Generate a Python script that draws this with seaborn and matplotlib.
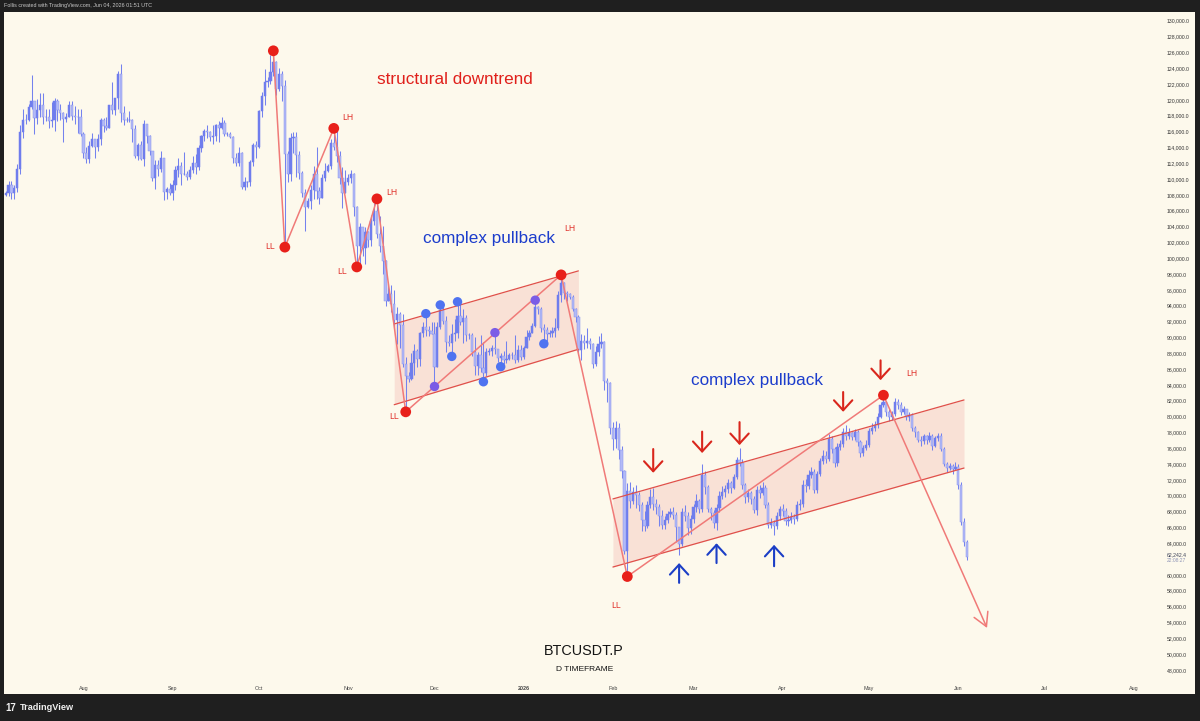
import numpy as np
import pandas as pd
import matplotlib
matplotlib.use("Agg")
import matplotlib.pyplot as plt
import matplotlib.dates as mdates
from matplotlib.patches import Rectangle
import seaborn as sns

# ---- daily BTCUSDT.P candles (values in thousands), open = previous close ----
first_day = "2025-07-05"
first_open = 108.0

close_jul = [108.2, 109.2, 108.3, 108.9, 111.3, 115.9, 117.5, 117.4, 119.1, 119.8, 117.7, 118.7, 119.4, 117.9,
             117.9, 117.3, 117.4, 119.9, 118.7, 118.3, 117.6, 117.9, 119.4, 118.0, 117.9, 117.8, 115.7]
high_jul = [108.5, 109.7, 109.7, 109.2, 111.9, 116.8, 118.9, 118.2, 119.5, 123.2, 119.9, 120.1, 120.9, 120.9,
            118.9, 118.9, 119.7, 120.2, 120.1, 119.5, 118.5, 118.4, 119.8, 119.8, 119.2, 118.8, 118.9]
low_jul = [107.8, 107.8, 107.5, 107.5, 108.4, 110.6, 115.2, 116.9, 117.3, 118.9, 115.7, 116.9, 117.8, 116.9,
           117.3, 116.5, 116.6, 116.1, 117.3, 117.4, 114.7, 117.2, 117.8, 117.4, 117.0, 115.8, 115.5]

close_aug = [113.3, 112.5, 114.2, 115.0, 114.1, 115.0, 117.5, 116.7, 116.5, 119.3, 118.7, 120.2, 123.3, 118.3,
             117.4, 117.5, 117.5, 116.3, 112.9, 114.3, 112.5, 116.9, 115.4, 113.5, 110.1, 111.8, 111.3, 112.6,
             108.4, 108.8, 108.2]
high_aug = [116.0, 114.0, 114.8, 115.8, 115.1, 115.7, 117.7, 117.7, 117.9, 119.3, 122.3, 120.3, 123.7, 124.5,
            119.2, 117.9, 118.6, 117.6, 116.8, 114.6, 114.8, 117.4, 117.0, 115.6, 113.6, 112.4, 112.4, 113.5,
            112.6, 109.0, 109.5]
low_aug = [112.7, 112.0, 112.0, 114.1, 112.7, 113.6, 114.3, 115.9, 116.2, 116.5, 118.2, 118.1, 118.9, 117.2,
           116.8, 117.2, 117.2, 114.7, 112.6, 112.4, 112.4, 111.7, 114.6, 113.0, 109.7, 108.8, 110.4, 110.9,
           107.4, 107.5, 108.0]

close_sep = [109.2, 111.2, 111.7, 110.7, 110.7, 110.2, 111.1, 112.0, 111.5, 113.9, 115.5, 116.1, 115.9, 115.3,
             115.4, 116.8, 116.5, 117.1, 115.7, 115.7, 115.3, 112.7, 112.0, 113.3, 109.0, 109.6, 109.6, 112.1,
             114.3, 114.0]
high_sep = [109.9, 111.7, 112.6, 112.2, 113.4, 111.0, 111.6, 112.9, 113.2, 114.3, 115.6, 116.3, 116.8, 116.1,
            116.8, 117.0, 117.3, 117.9, 117.5, 116.0, 116.0, 115.4, 113.3, 114.0, 113.4, 110.3, 109.8, 112.4,
            114.5, 114.8]
low_sep = [107.3, 108.6, 110.2, 109.3, 110.5, 109.9, 110.0, 110.8, 110.7, 111.1, 113.4, 114.8, 115.2, 114.8,
           114.4, 114.8, 114.7, 116.3, 115.4, 115.4, 115.2, 112.0, 111.6, 111.7, 108.7, 108.6, 109.0, 109.1,
           111.6, 112.7]

close_oct = [118.6, 120.5, 122.2, 122.4, 123.5, 124.8, 121.4, 123.3, 121.7, 113.2, 110.7, 115.2, 115.3, 113.1,
             110.8, 108.2, 106.5, 107.2, 108.6, 110.6, 108.5, 107.6, 110.1, 111.0, 111.6, 114.5, 114.1, 112.9,
             110.1, 108.3, 109.6]
high_oct = [118.7, 121.0, 123.9, 122.9, 125.7, 126.2, 124.9, 124.0, 123.7, 122.5, 113.5, 115.8, 116.0, 115.9,
            113.6, 111.0, 108.8, 107.6, 109.2, 111.6, 114.0, 109.0, 110.6, 112.0, 111.9, 115.0, 116.4, 116.1,
            113.6, 111.5, 111.1]
low_oct = [113.9, 117.9, 119.3, 121.6, 122.0, 123.0, 120.6, 121.1, 119.9, 101.5, 109.6, 109.7, 113.3, 110.2,
           110.0, 107.7, 103.5, 106.4, 106.2, 107.5, 107.5, 106.8, 107.6, 109.7, 110.9, 111.3, 113.7, 112.2,
           109.4, 106.3, 108.3]

close_nov = [110.1, 110.6, 106.5, 101.5, 103.9, 101.3, 103.3, 102.3, 104.7, 106.0, 103.0, 101.6, 99.7, 94.6,
             95.5, 94.2, 92.2, 92.9, 91.6, 86.6, 85.1, 84.7, 86.8, 88.3, 87.3, 90.5, 91.3, 90.9, 90.8, 90.4]
high_nov = [110.6, 111.2, 110.8, 106.6, 104.5, 104.0, 104.0, 103.4, 105.5, 107.0, 107.5, 105.3, 104.1, 99.8,
            96.8, 96.6, 96.0, 93.8, 93.2, 92.9, 87.5, 85.6, 88.0, 89.2, 88.5, 90.7, 91.9, 92.9, 91.5, 91.9]
low_nov = [109.2, 109.5, 105.3, 98.9, 98.9, 100.3, 99.3, 101.4, 101.5, 104.2, 102.5, 100.8, 98.0, 94.0,
           94.6, 93.2, 91.3, 89.2, 88.6, 86.2, 80.6, 84.4, 84.6, 85.2, 86.2, 86.4, 90.1, 90.2, 90.2, 90.4]

close_dec = [86.3, 91.3, 93.5, 92.1, 89.4, 89.3, 90.4, 90.6, 92.7, 92.0, 92.5, 90.3, 90.3, 88.2, 86.4, 87.8,
             86.1, 85.5, 88.1, 88.3, 88.6, 88.5, 87.4, 87.6, 87.2, 87.3, 87.8, 87.8, 87.1, 88.4, 87.5]
high_dec = [91.9, 91.9, 94.1, 94.0, 92.7, 90.3, 91.7, 92.3, 94.5, 94.5, 93.6, 92.8, 90.6, 90.6, 90.1, 88.2,
            90.3, 89.4, 88.6, 88.6, 89.0, 90.6, 88.2, 88.0, 88.3, 89.5, 88.0, 88.2, 90.3, 89.0, 89.0]
low_dec = [83.8, 86.2, 91.1, 91.7, 88.1, 88.9, 87.6, 89.6, 89.9, 91.6, 89.3, 89.6, 89.8, 87.6, 85.2, 85.3,
           85.6, 84.4, 85.1, 87.8, 87.7, 87.9, 86.9, 86.3, 86.6, 86.8, 87.2, 87.3, 86.8, 86.9, 87.2]

close_jan = [88.7, 90.0, 90.6, 91.4, 93.8, 93.6, 91.2, 90.9, 90.4, 90.5, 90.8, 91.2, 95.4, 96.9, 95.6, 95.5,
             95.1, 93.6, 92.6, 88.4, 89.6, 89.3, 89.5, 89.2, 86.6, 88.2, 89.2, 89.4, 84.5, 84.2, 78.6]
high_jan = [88.9, 90.9, 90.9, 91.8, 94.7, 94.0, 93.8, 91.7, 91.3, 90.9, 91.3, 92.5, 95.8, 97.9, 97.0, 95.9,
            95.6, 95.3, 93.7, 92.8, 90.4, 90.3, 91.2, 89.9, 89.3, 88.9, 90.2, 90.5, 89.5, 84.9, 84.4]
low_jan = [87.3, 88.6, 89.7, 90.5, 91.3, 92.9, 90.7, 89.2, 89.6, 90.1, 90.1, 90.0, 90.9, 94.5, 94.9, 94.6,
           94.8, 93.3, 92.0, 87.8, 87.2, 88.5, 88.6, 88.5, 86.1, 86.4, 87.6, 88.6, 83.4, 81.8, 77.8]

close_feb = [77.2, 78.6, 75.8, 73.1, 63.0, 70.6, 69.3, 70.5, 70.1, 68.8, 67.0, 66.2, 68.8, 69.9, 68.9, 68.6,
             67.5, 66.3, 66.9, 67.7, 68.0, 67.6, 66.0, 63.9, 67.9, 67.4, 65.9, 67.1]
high_feb = [79.3, 79.4, 79.2, 76.3, 73.2, 71.6, 71.8, 71.1, 71.3, 70.5, 69.2, 68.1, 69.4, 70.8, 71.0, 69.6,
            69.0, 68.2, 67.5, 68.1, 68.5, 68.6, 67.9, 64.8, 68.5, 68.8, 68.0, 67.6]
low_feb = [75.8, 76.0, 74.6, 72.2, 62.7, 59.8, 68.4, 68.9, 68.4, 68.1, 65.6, 65.5, 65.9, 68.5, 68.2, 67.7,
           66.2, 65.8, 65.8, 66.6, 67.3, 67.1, 64.2, 62.5, 63.7, 66.8, 65.0, 65.2]

close_mar = [68.6, 69.3, 68.3, 72.6, 71.1, 68.3, 67.8, 66.6, 68.4, 70.0, 70.5, 70.8, 71.6, 71.0, 72.4, 74.5,
             74.2, 71.3, 69.8, 70.4, 69.6, 68.2, 70.7, 70.4, 71.0, 68.8, 66.3, 66.6, 66.2, 67.4, 68.3]
high_mar = [68.9, 70.2, 69.6, 74.0, 73.1, 71.4, 68.6, 68.2, 68.9, 70.6, 71.2, 71.3, 72.1, 71.9, 72.8, 74.9,
            76.0, 74.6, 71.6, 70.9, 70.6, 70.0, 71.2, 71.4, 71.7, 71.3, 69.2, 67.2, 67.0, 67.9, 68.7]
low_mar = [66.5, 67.9, 67.8, 68.0, 70.2, 67.9, 67.0, 65.9, 65.7, 67.9, 69.6, 69.8, 70.3, 70.3, 70.8, 72.1,
           73.7, 70.8, 69.1, 69.2, 69.0, 67.8, 67.6, 69.7, 70.1, 68.5, 65.9, 65.9, 65.0, 65.8, 67.0]

close_apr = [68.1, 66.8, 66.9, 67.3, 67.1, 68.8, 68.9, 71.4, 71.2, 72.6, 73.0, 70.7, 72.8, 74.4, 75.0, 74.7,
             77.2, 75.9, 74.1, 76.2, 76.5, 78.1, 77.6, 77.9, 77.4, 78.0, 76.8, 75.4, 76.0, 76.4]
high_apr = [68.9, 68.4, 67.6, 67.9, 67.7, 69.3, 69.6, 72.0, 72.1, 73.2, 73.6, 73.4, 73.1, 74.8, 75.8, 75.6,
            77.8, 77.5, 76.2, 76.7, 77.1, 78.6, 78.9, 78.5, 78.1, 78.4, 78.3, 77.0, 76.4, 77.0]
low_apr = [67.5, 66.3, 66.2, 66.6, 66.4, 66.8, 68.2, 68.6, 70.5, 70.9, 72.2, 70.3, 70.4, 72.5, 74.0, 74.2,
           74.4, 75.4, 73.6, 73.8, 75.8, 76.2, 77.1, 77.2, 77.0, 77.1, 76.3, 74.9, 75.0, 75.8]

close_may = [78.2, 78.5, 78.9, 80.0, 81.5, 81.9, 80.6, 79.9, 80.3, 81.9, 81.5, 80.6, 80.9, 79.9, 80.2, 78.5,
             78.0, 77.1, 76.9, 77.5, 77.0, 77.6, 76.3, 77.3, 77.6, 75.9, 74.0, 73.5, 73.8, 73.4, 73.6]
high_may = [78.6, 79.2, 79.4, 80.4, 81.9, 82.7, 82.0, 80.9, 80.7, 82.3, 82.2, 81.9, 81.3, 81.0, 80.6, 80.4,
            78.8, 78.2, 77.6, 77.8, 77.7, 78.0, 77.8, 77.6, 77.9, 77.9, 76.1, 74.3, 74.1, 74.0, 74.3]
low_may = [76.2, 77.8, 78.2, 78.6, 79.8, 81.2, 80.1, 79.4, 79.6, 80.1, 80.9, 80.2, 80.3, 79.6, 79.5, 78.2,
           77.4, 76.8, 76.3, 76.6, 76.6, 76.8, 75.8, 76.1, 76.9, 75.6, 73.7, 73.0, 73.2, 72.8, 73.2]

close_jun = [71.4, 66.7, 64.1, 62.2424]
high_jun = [74.0, 71.8, 67.2, 64.4]
low_jun = [70.9, 66.3, 63.6, 61.9]

# ---- annotations (dates, prices in thousands) ----
pivot_dates = ["2025-10-06", "2025-10-10", "2025-10-27", "2025-11-04", "2025-11-11",
               "2025-11-21", "2026-01-14", "2026-02-06", "2026-05-06"]
pivot_prices = [126.2, 101.4, 116.4, 98.9, 107.5, 80.6, 97.9, 59.8, 82.7]
target_date, target_price = "2026-06-11", 53.3

touch_dates = ["2025-11-28", "2025-12-03", "2025-12-09", "2025-12-07", "2025-12-18", "2025-12-24", "2026-01-08"]
touch_prices = [93.0, 94.1, 94.5, 87.6, 84.4, 86.3, 89.2]
mid_dates = ["2025-12-01", "2025-12-22", "2026-01-05"]
mid_prices = [83.8, 90.6, 94.7]

ch1_dates = ["2025-11-17", "2026-01-20"]
ch1_upper = [91.7, 98.4]
ch1_lower = [81.5, 88.5]
ch2_dates = ["2026-02-01", "2026-06-03"]
ch2_upper = [69.6, 82.1]
ch2_lower = [61.0, 73.5]

down_dates = ["2026-02-15", "2026-03-04", "2026-03-17", "2026-04-22", "2026-05-05"]
down_tail = [75.9, 78.1, 79.3, 83.1, 87.1]
down_tip = [72.9, 75.4, 76.4, 80.6, 84.6]
up_dates = ["2026-02-24", "2026-03-09", "2026-03-29"]
up_tail = [59.0, 61.5, 61.1]
up_tip = [61.5, 64.0, 63.8]

lh_dates = ["2025-11-01", "2025-11-16", "2026-01-17", "2026-05-16"]
lh_prices = [117.8, 108.3, 103.7, 85.4]
ll_dates = ["2025-10-05", "2025-10-30", "2025-11-17", "2026-02-02"]
ll_prices = [101.45, 98.3, 80.0, 56.2]

month_ticks = ["2025-08-01", "2025-09-01", "2025-10-01", "2025-11-01", "2025-12-01", "2026-01-01",
               "2026-02-01", "2026-03-01", "2026-04-01", "2026-05-01", "2026-06-01", "2026-07-01", "2026-08-01"]
month_labels = ["Aug", "Sep", "Oct", "Nov", "Dec", "2026", "Feb", "Mar", "Apr", "May", "Jun", "Jul", "Aug"]

# ---- build frame ----
closes = np.array(close_jul + close_aug + close_sep + close_oct + close_nov + close_dec + close_jan
                  + close_feb + close_mar + close_apr + close_may + close_jun) * 1000
highs = np.array(high_jul + high_aug + high_sep + high_oct + high_nov + high_dec + high_jan
                 + high_feb + high_mar + high_apr + high_may + high_jun) * 1000
lows = np.array(low_jul + low_aug + low_sep + low_oct + low_nov + low_dec + low_jan
                + low_feb + low_mar + low_apr + low_may + low_jun) * 1000
opens = np.concatenate([[first_open * 1000], closes[:-1]])
dates = pd.date_range(first_day, periods=len(closes), freq="D")
df = pd.DataFrame({"date": dates, "open": opens, "high": np.maximum(highs, np.maximum(opens, closes)),
                   "low": np.minimum(lows, np.minimum(opens, closes)), "close": closes})
df["x"] = mdates.date2num(df["date"])


def dn(s):
    return mdates.date2num(pd.Timestamp(s))


def dns(lst):
    return np.array([dn(s) for s in lst])


# ---- style ----
sns.set_theme(style="white")
plt.rcParams["font.family"] = ["Liberation Sans", "DejaVu Sans"]
bg = "#fdf9ec"
frame = "#1f1f1f"

W, H = 1200, 721
fig = plt.figure(figsize=(12, 7.21), dpi=100, facecolor=frame)
fig.patches.append(Rectangle((4 / W, 1 - 694 / H), 1191 / W, 682 / H, transform=fig.transFigure,
                             facecolor=bg, edgecolor="none", zorder=-10))
ax = fig.add_axes([4 / W, 1 - 681 / H, 1156 / W, 669 / H])
ax.set_zorder(5)
ax.patch.set_visible(False)
for s in ax.spines.values():
    s.set_visible(False)

aug1 = dn("2025-08-01")
ax.set_xlim(aug1 - 27.59, aug1 + 374.1)
ax.set_ylim(46604, 131099)

# candles
up = df["close"] >= df["open"]
up_col, dn_col, wick_col = "#6f7ded", "#b2baf6", "#7482ee"
ax.vlines(df["x"], df["low"], df["high"], color=wick_col, lw=0.75, zorder=2)
ax.bar(df["x"][up], (df["close"] - df["open"])[up], bottom=df["open"][up], width=0.78,
       color=up_col, edgecolor=up_col, linewidth=0.35, zorder=3)
ax.bar(df["x"][~up], (df["close"] - df["open"])[~up], bottom=df["open"][~up], width=0.78,
       color=dn_col, edgecolor="#8994f0", linewidth=0.35, zorder=3)

# channels
chan_line = "#e0504a"
chan_fill = "#f8d9cf"
for cd, cu, cl in [(ch1_dates, ch1_upper, ch1_lower), (ch2_dates, ch2_upper, ch2_lower)]:
    xs = dns(cd)
    ax.fill_between(xs, np.array(cl) * 1000, np.array(cu) * 1000, color=chan_fill, alpha=0.75, lw=0, zorder=1)
    ax.plot(xs, np.array(cu) * 1000, color=chan_line, lw=0.9, zorder=4)
    ax.plot(xs, np.array(cl) * 1000, color=chan_line, lw=0.9, zorder=4)

# zigzag structure
zig = "#f07a78"
zz = pd.DataFrame({"x": dns(pivot_dates), "y": np.array(pivot_prices) * 1000})
sns.lineplot(data=zz, x="x", y="y", sort=False, estimator=None, color=zig, lw=1.1, ax=ax, zorder=5)
ax.annotate("", xy=(dn(target_date), target_price * 1000), xytext=(zz["x"].iloc[-1], zz["y"].iloc[-1]),
            arrowprops=dict(arrowstyle="->,head_length=0.8,head_width=0.45", color=zig, lw=1.1,
                            shrinkA=0, shrinkB=0), zorder=5)

# pivot and touch dots
sns.scatterplot(x=dns(touch_dates), y=np.array(touch_prices) * 1000, s=46, color="#4f73f0",
                edgecolor="none", ax=ax, zorder=6)
sns.scatterplot(x=dns(mid_dates), y=np.array(mid_prices) * 1000, s=46, color="#7b5ce6",
                edgecolor="none", ax=ax, zorder=6)
sns.scatterplot(x=zz["x"], y=zz["y"], s=60, color="#e8201a", edgecolor="none", ax=ax, zorder=7)

# arrows
for d, t0, t1 in zip(down_dates, down_tail, down_tip):
    ax.annotate("", xy=(dn(d), t1 * 1000), xytext=(dn(d), t0 * 1000),
                arrowprops=dict(arrowstyle="->,head_length=0.6,head_width=0.55", color="#d9261c", lw=1.5,
                                shrinkA=0, shrinkB=0), zorder=6)
for d, t0, t1 in zip(up_dates, up_tail, up_tip):
    ax.annotate("", xy=(dn(d), t1 * 1000), xytext=(dn(d), t0 * 1000),
                arrowprops=dict(arrowstyle="->,head_length=0.6,head_width=0.55", color="#1b3ec6", lw=1.5,
                                shrinkA=0, shrinkB=0), zorder=6)

# labels
red_txt = "#e0302a"
for d, p in zip(lh_dates, lh_prices):
    ax.text(dn(d), p * 1000, "LH", color=red_txt, fontsize=6.2, ha="center", va="center", zorder=8)
for d, p in zip(ll_dates, ll_prices):
    ax.text(dn(d), p * 1000, "LL", color=red_txt, fontsize=6.2, ha="center", va="center", zorder=8)

ax.text(dn("2025-11-11"), 122600, "structural downtrend", color="#e0201b", fontsize=12.3, ha="left", va="center")
ax.text(dn("2025-11-27"), 102550, "complex pullback", color="#1c3dcc", fontsize=12.3, ha="left", va="center")
ax.text(dn("2026-02-28"), 84500, "complex pullback", color="#1c3dcc", fontsize=12.3, ha="left", va="center")
ax.text(dn("2026-01-22"), 50400, "BTCUSDT.P", color="#151515", fontsize=10.4, ha="center", va="center")
ax.text(dn("2026-01-22"), 48100, "D TIMEFRAME", color="#151515", fontsize=6, ha="center", va="center")

# axes ticks
ax.xaxis.set_major_locator(matplotlib.ticker.FixedLocator(dns(month_ticks)))
ax.set_xticklabels(month_labels)
ax.tick_params(axis="x", length=0, pad=3.5, labelsize=3.9, labelcolor="#444444")
for lbl in ax.get_xticklabels():
    if lbl.get_text() == "2026":
        lbl.set_fontweight("bold")

yt = [v for v in range(48000, 130001, 2000) if v != 62000]
ax.yaxis.tick_right()
ax.set_yticks(yt)
ax.set_yticklabels([f"{v:,.1f}" for v in yt])
ax.tick_params(axis="y", length=0, pad=5, labelsize=3.7, labelcolor="#333333")
ax.set_xlabel("")
ax.set_ylabel("")
ax.grid(False)

last = df["close"].iloc[-1]
ytr = matplotlib.transforms.blended_transform_factory(fig.transFigure, ax.transData)
ax.text(1167 / W, last + 300, f"{last:,.1f}", transform=ytr, fontsize=3.7, color="#3a3f55", ha="left", va="center")
ax.text(1167 / W, last - 450, "22:08:27", transform=ytr, fontsize=3.5, color="#8d93b5", ha="left", va="center")

# frame texts
fig.text(4 / W, 1 - 6 / H, "Follis created with TradingView.com, Jun 04, 2026 01:51 UTC",
         color="#c8c8c8", fontsize=3.9, ha="left", va="center")
fig.text(5 / W, 1 - 708 / H, "17", color="#f0f0f0", fontsize=7, fontweight="bold", ha="left", va="center")
fig.text(20 / W, 1 - 708 / H, "TradingView", color="#f0f0f0", fontsize=6.6, fontweight="bold",
         ha="left", va="center")

fig.savefig("out.png", dpi=100, facecolor=frame)
